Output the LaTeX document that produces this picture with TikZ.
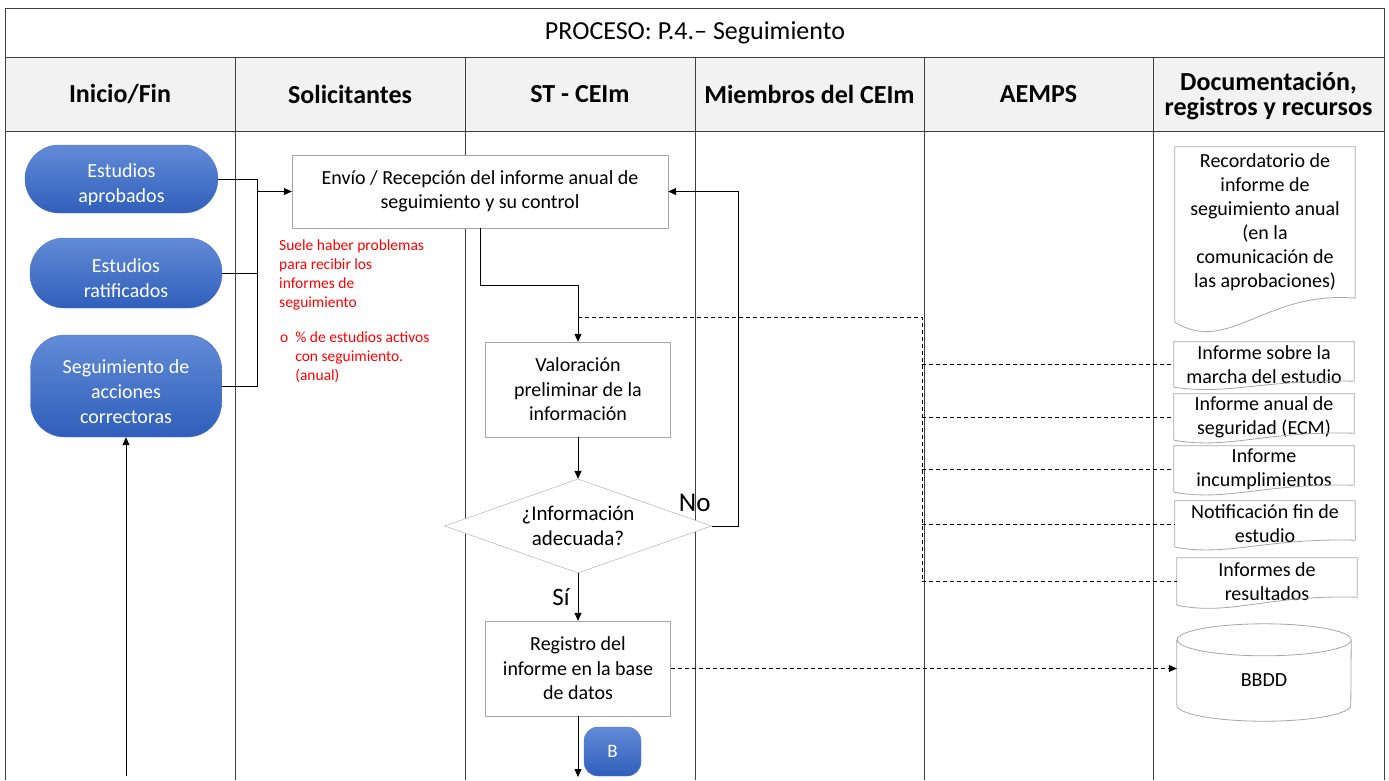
\documentclass[tikz,border=0pt]{standalone}
\usepackage{fontspec}
\setmainfont{Carlito}
\usetikzlibrary{arrows.meta,calc,shapes.geometric}

\definecolor{lanegrid}{RGB}{64,64,64}
\definecolor{headfill}{RGB}{242,242,242}
\definecolor{boxedge}{RGB}{166,166,166}
\definecolor{termtop}{RGB}{98,139,215}
\definecolor{termbot}{RGB}{48,95,187}
\definecolor{termedge}{RGB}{78,118,196}
\definecolor{notered}{RGB}{255,0,0}

% document symbol: node, extra depth below the node, wave height
\newcommand{\docline}[3]{%
	\path ([yshift=-#2]#1.south west) coordinate (#1-sw) ([yshift=-#2]#1.south east) coordinate (#1-se);
	\draw[docframe] (#1-sw) -- (#1.north west) -- (#1.north east) -- ($(#1-se)+(0,#3)$)
		.. controls ($(#1-sw)!0.5!(#1-se)+(0,1.33*#3)$) and ($(#1-sw)!0.3!(#1-se)-(0,1.37*#3)$) .. (#1-sw);}

\begin{document}
\begin{tikzpicture}[x=1pt, y=1pt, >={Triangle[length=8pt,width=7pt]},
	lane/.style={draw=lanegrid, line width=1pt},
	term/.style={rounded corners=34pt, top color=termtop, bottom color=termbot, draw=termedge, inner sep=0pt},
	termtext/.style={text=white, align=center, yshift=-5.5pt, font=\fontsize{20}{25}\selectfont},
	task/.style={draw=boxedge, fill=white, align=center, inner sep=0pt, font=\fontsize{20}{24.5}\selectfont},
	query/.style={shape=diamond, draw=boxedge, fill=white, aspect=2.84, align=center, inner sep=0pt, font=\fontsize{21}{24.5}\selectfont},
	doc/.style={align=center, inner sep=0pt, minimum width=180pt, font=\fontsize{20}{24}\selectfont},
	docframe/.style={draw=boxedge, line width=0.8pt},
	head/.style={align=center, font=\bfseries\fontsize{26}{25}\selectfont},
	note/.style={anchor=north west, inner sep=0pt, text=notered, align=left, font=\fontsize{15.5}{19}\selectfont},
	flow/.style={->, line width=0.8pt},
	dashline/.style={line width=0.8pt, dash pattern=on 4pt off 3pt}]
	\useasboundingbox (0,0) rectangle (1389,-780);

	% swimlanes
	\draw[lane, fill=headfill] (5,-57) rectangle (1384,-131);
	\draw[lane] (5,-780) -- (5,-8) -- (1384,-8) -- (1384,-780);
	\foreach \x in {235,465,695,924,1153}
		\draw[lane] (\x,-57) -- (\x,-780);

	\node (ttl) at (695,-33) {\fontsize{26}{30}\selectfont PROCESO: P.4.\textendash{} Seguimiento};
	\node[head] (hdinicio) at (120,-94) {Inicio/Fin};
	\node[head] (hdsolic) at (350,-94) {Solicitantes};
	\node[head] (hdst) at (580,-94) {ST - CEIm};
	\node[head] (hdmiem) at (809.5,-94) {Miembros del CEIm};
	\node[head] (hdaemps) at (1038.5,-94) {AEMPS};
	\node[head] (hddoc) at (1268.5,-96) {Documentación,\\registros y recursos};

	% inicio / fin
	\node[term, minimum width=193pt, minimum height=68pt, label={[termtext]center:{Estudios\\aprobados}}] (aprob) at (121.5,-179) {};
	\node[term, minimum width=192pt, minimum height=70pt, label={[termtext]center:{Estudios\\ratificados}}] (ratif) at (126,-273) {};
	\node[term, minimum width=191pt, minimum height=102pt, label={[termtext]center:{Seguimiento de\\acciones\\correctoras}}] (correct) at (126,-386) {};
	\coordinate (backin) at (126,-776);

	% solicitantes / ST
	\node[task, minimum width=376pt, minimum height=73pt] (envio) at (480,-191.5) {Envío / Recepción del informe anual de\\seguimiento y su control};
	\node[note] (probnote) at (279,-240) {Suele haber problemas\\para recibir los\\informes de\\seguimiento};
	\node[note] (kpinote) at (280,-329) {\begin{tabular}{@{}l@{\hspace{7pt}}l@{}}o & \% de estudios activos\\ & con seguimiento.\\ & (anual)\end{tabular}};
	\node[task, minimum width=185pt, minimum height=95pt] (valor) at (578,-389.5) {Valoración\\preliminar de la\\información};
	\node[query, minimum width=267pt, minimum height=94pt] (decide) at (578,-526) {¿Información\\adecuada?};
	\node[task, minimum width=185pt, minimum height=95pt] (registro) at (578,-668.5) {Registro del\\informe en la base\\de datos};
	\node[term, rounded corners=14pt, minimum width=57pt, minimum height=49pt, text=white, font=\fontsize{19}{22}\selectfont] (bconn) at (612.5,-751.5) {B};
	\coordinate (regout) at (578,-777);
	\node[anchor=south east, inner sep=0pt, font=\fontsize{27}{30}\selectfont] (nolbl) at ([xshift=-1pt,yshift=14pt]decide.east) {No};

	% documentacion
	\node[doc, minimum height=150pt] (recor) at (1265,-222) {Recordatorio de\\informe de\\seguimiento anual\\(en la\\comunicación de\\las aprobaciones)};
	\node[doc, minimum height=45pt] (marcha) at (1264,-364.5) {Informe sobre la\\marcha del estudio};
	\node[doc, minimum height=46pt] (segur) at (1264,-417) {Informe anual de\\seguridad (ECM)};
	\node[doc, minimum height=46pt] (incump) at (1264,-469) {Informe\\incumplimientos};
	\node[doc, minimum height=46pt] (notif) at (1265,-524) {Notificación fin de\\estudio};
	\node[doc, minimum height=47pt] (result) at (1267,-581.5) {Informes de\\resultados};
	\node[doc, minimum width=174pt, minimum height=81pt] (bbdd) at (1264,-680.5) {BBDD};
	\docline{recor}{25pt}{24}
	\docline{marcha}{0pt}{6}
	\docline{segur}{0pt}{7}
	\docline{incump}{0pt}{7}
	\docline{notif}{0pt}{7}
	\docline{result}{0pt}{8}
	\draw[docframe] (bbdd.north west) -- ([yshift=16pt]bbdd.south west) arc[start angle=180, end angle=360, x radius=87, y radius=16]
		-- (bbdd.north east) arc[start angle=0, end angle=180, x radius=87, y radius=16] arc[start angle=180, end angle=360, x radius=87, y radius=16];

	% connectors
	\coordinate (bus) at (257,-191.5);
	\draw[line width=0.8pt] (aprob.east) -| (bus);
	\draw[line width=0.8pt] (ratif.east) -| (bus);
	\draw[line width=0.8pt] (correct.east) -| (bus);
	\draw[flow] (bus) -- (envio.west);
	\draw[flow] (envio.south) -- ++(0,-57) -| (valor.north);
	\draw[flow] (valor.south) -- (decide.north);
	\draw[flow] (decide.east) -- ++(26.5,0) |- (envio.east);
	\draw[flow] (decide.south) -- node[anchor=east, xshift=-8pt, inner sep=0pt, font=\fontsize{25}{28}\selectfont] (silbl) {Sí} (registro.north);
	\draw[flow] (registro.south) -- (regout);
	\draw[flow] (backin) -- (correct.south);

	\coordinate (trunk) at (922,-317);
	\draw[dashline] (valor.north |- trunk) -- (trunk) -- (trunk |- result.west);
	\foreach \d in {marcha,segur,incump,notif,result}
		\draw[dashline] (trunk |- \d.west) -- (\d.west);
	\draw[dashline,->] (registro.east) -- (registro.east -| bbdd.west);
\end{tikzpicture}
\end{document}
